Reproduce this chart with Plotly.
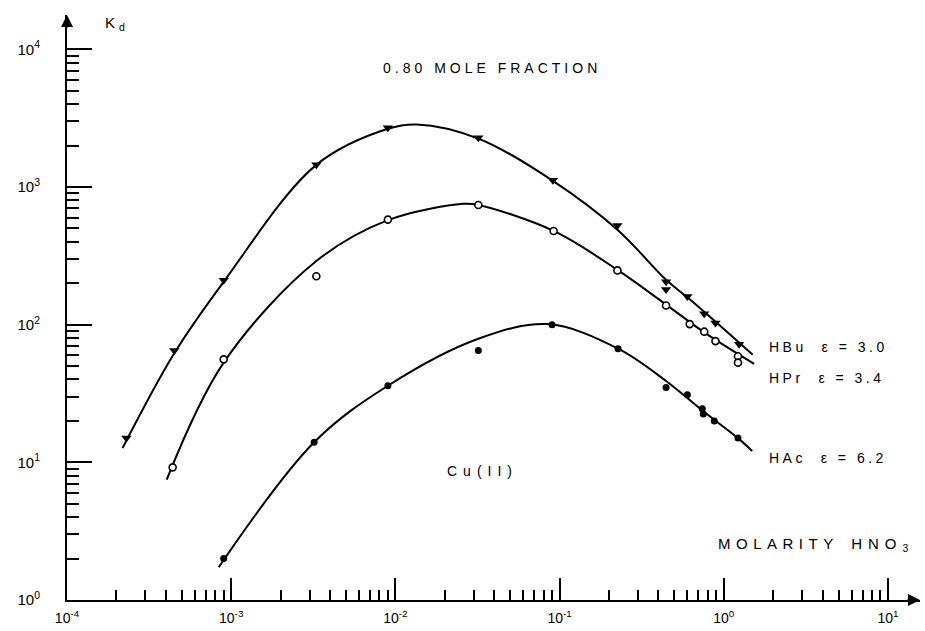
import plotly.graph_objects as go

# ---- data ----
x_hbu = [2.3e-4, 4.5e-4, 9.0e-4, 3.3e-3, 9.0e-3, 3.2e-2, 9.1e-2, 0.225, 0.445, 0.445, 0.60, 0.76, 0.89, 1.24]
kd_hbu = [15, 65, 210, 1450, 2700, 2280, 1120, 525, 205, 180, 160, 120, 103, 72]

x_hpr = [4.4e-4, 9.0e-4, 3.3e-3, 9.0e-3, 3.2e-2, 9.2e-2, 0.225, 0.445, 0.62, 0.76, 0.89, 1.22, 1.22]
kd_hpr = [9.2, 56, 225, 580, 740, 480, 248, 138, 101, 89, 76, 59, 53]

x_hac = [9.0e-4, 3.2e-3, 9.0e-3, 3.2e-2, 9.0e-2, 0.227, 0.445, 0.60, 0.74, 0.75, 0.875, 1.22]
kd_hac = [2.0, 14, 36, 65, 100, 67, 35, 31, 24.5, 22.5, 20, 15]

# hand-drawn fitted curves (knots)
cx_hbu = [2.18e-4, 4.5e-4, 9e-4, 3.3e-3, 9e-3, 1.35e-2, 3.2e-2, 9.1e-2, 0.225, 0.445, 0.6, 1.0, 1.5]
cy_hbu = [12.7, 62, 205, 1450, 2650, 2850, 2250, 1110, 490, 212, 158, 93, 60.5]

cx_hpr = [4.05e-4, 9e-4, 3.3e-3, 9e-3, 2.6e-2, 3.2e-2, 9.2e-2, 0.225, 0.445, 0.76, 1.53]
cy_hpr = [7.5, 53, 290, 575, 755, 740, 480, 250, 140, 88, 52]

cx_hac = [8.4e-4, 3.2e-3, 9e-3, 3.2e-2, 8.5e-2, 0.227, 0.445, 0.75, 1.22, 1.49]
cy_hac = [1.73, 14, 36, 79, 101, 67, 39, 23.5, 15, 12.1]

x_tickvals = [1e-4, 1e-3, 1e-2, 1e-1, 1e0, 1e1]
x_ticktext = ["10<sup>-4</sup>", "10<sup>-3</sup>", "10<sup>-2</sup>", "10<sup>-1</sup>", "10<sup>0</sup>", "10<sup>1</sup>"]
y_tickvals = [1e0, 1e1, 1e2, 1e3, 1e4]
y_ticktext = ["10<sup>0</sup>", "10<sup>1</sup>", "10<sup>2</sup>", "10<sup>3</sup>", "10<sup>4</sup>"]

series_labels = ["HBu  ε = 3.0", "HPr  ε = 3.4", "HAc  ε = 6.2"]

FONT = "Liberation Sans, Arial, sans-serif"
BLACK = "black"

fig = go.Figure()

for cx, cy in [(cx_hbu, cy_hbu), (cx_hpr, cy_hpr), (cx_hac, cy_hac)]:
    fig.add_trace(go.Scatter(x=cx, y=cy, mode="lines",
                             line=dict(color=BLACK, width=2, shape="spline", smoothing=1.0),
                             hoverinfo="skip", showlegend=False))

fig.add_trace(go.Scatter(x=x_hbu, y=kd_hbu, mode="markers", name=series_labels[0],
                         marker=dict(symbol="triangle-down", size=9, color=BLACK),
                         showlegend=False))
fig.add_trace(go.Scatter(x=x_hpr, y=kd_hpr, mode="markers", name=series_labels[1],
                         marker=dict(symbol="circle", size=7, color="white",
                                     line=dict(color=BLACK, width=1.6)),
                         showlegend=False))
fig.add_trace(go.Scatter(x=x_hac, y=kd_hac, mode="markers", name=series_labels[2],
                         marker=dict(symbol="circle", size=7, color=BLACK),
                         showlegend=False))

fig.update_xaxes(type="log", range=[-4.0, 1.195],
                 showline=True, linecolor=BLACK, linewidth=2, mirror=False,
                 showgrid=False, zeroline=False,
                 tickmode="array", tickvals=x_tickvals, ticktext=x_ticktext,
                 ticks="inside", ticklen=22, tickwidth=1.5, tickcolor=BLACK,
                 minor=dict(dtick="D1", ticks="inside", ticklen=10, tickwidth=1.5,
                            tickcolor=BLACK, showgrid=False),
                 tickfont=dict(family=FONT, size=14, color=BLACK),
                 ticklabelstandoff=4)
fig.update_yaxes(type="log", range=[0.0, 4.25],
                 showline=True, linecolor=BLACK, linewidth=2, mirror=False,
                 showgrid=False, zeroline=False,
                 tickmode="array", tickvals=y_tickvals, ticktext=y_ticktext,
                 ticks="inside", ticklen=25, tickwidth=1.5, tickcolor=BLACK,
                 minor=dict(dtick="D1", ticks="inside", ticklen=12, tickwidth=1.5,
                            tickcolor=BLACK, showgrid=False),
                 tickfont=dict(family=FONT, size=15, color=BLACK),
                 ticklabelstandoff=22)

ann_font = dict(family=FONT, size=14, color=BLACK)

def spaced(txt, px):
    return '<span style="letter-spacing:%gpx">%s</span>' % (px, txt)

annotations = [
    dict(text=spaced("0.80 MOLE FRACTION", 4), x=0.498, y=0.909, xanchor="center", yanchor="middle"),
    dict(text=spaced("Cu(II)", 6), x=0.487, y=0.2205, xanchor="center", yanchor="middle"),
    dict(text=spaced("MOLARITY", 5.5) + "   " + spaced("HNO<sub>3</sub>", 6),
         x=0.761, y=0.0957, xanchor="left", yanchor="middle", font=dict(family=FONT, size=15, color=BLACK)),
    dict(text=spaced(series_labels[0], 3.5), x=0.8206, y=0.4325, xanchor="left", yanchor="middle"),
    dict(text=spaced(series_labels[1], 3.5), x=0.8206, y=0.3795, xanchor="left", yanchor="middle"),
    dict(text=spaced(series_labels[2], 3.5), x=0.8206, y=0.2427, xanchor="left", yanchor="middle"),
    dict(text=spaced("K<sub>d</sub>", 4), x=0.042, y=0.985, xanchor="left", yanchor="middle",
         font=dict(family=FONT, size=15, color=BLACK)),
]
for a in annotations:
    a.setdefault("font", ann_font)
    fig.add_annotation(xref="paper", yref="paper", showarrow=False, **a)

# axis arrowheads
fig.add_annotation(xref="paper", yref="paper", x=1.0, y=0.0, ax=-14, ay=0,
                   showarrow=True, arrowhead=2, arrowsize=1.2, arrowwidth=2, arrowcolor=BLACK, text="")
fig.add_annotation(xref="paper", yref="paper", x=0.0, y=1.0, ax=0, ay=14,
                   showarrow=True, arrowhead=2, arrowsize=1.2, arrowwidth=2, arrowcolor=BLACK, text="")

fig.update_layout(width=925, height=631,
                  margin=dict(l=67, r=5, t=15, b=31),
                  paper_bgcolor="white", plot_bgcolor="white",
                  showlegend=False)

fig.write_html("out.html", config={"displayModeBar": False},
               post_script="document.body.style.margin='0px';document.body.style.padding='0px';")
